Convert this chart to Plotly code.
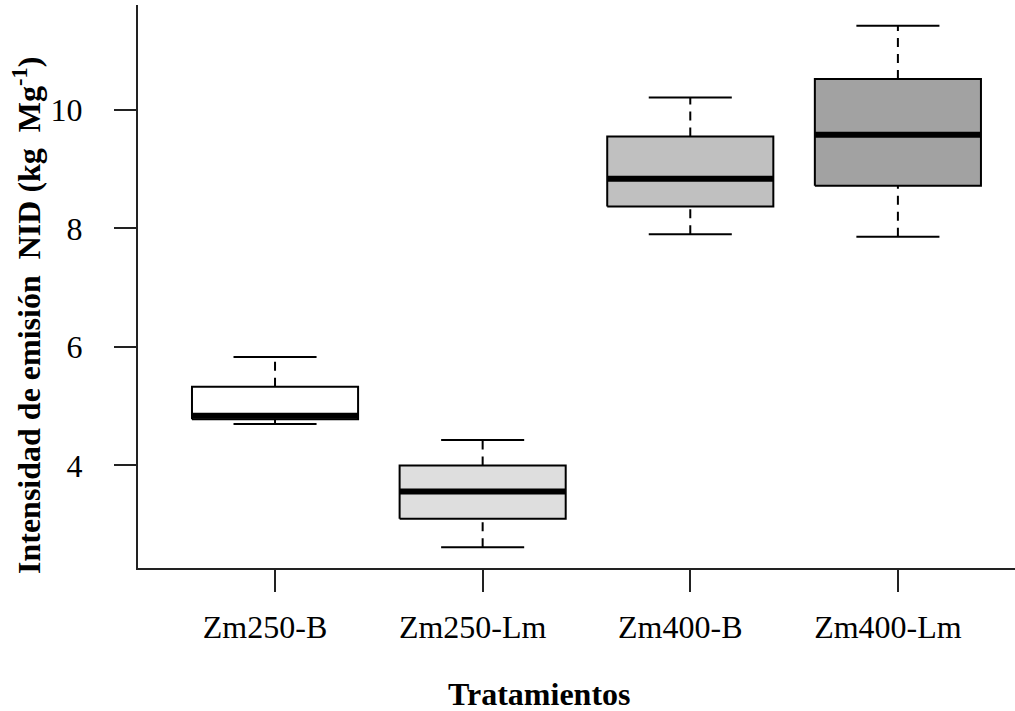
import plotly.graph_objects as go

categories = ["Zm250-B", "Zm250-Lm", "Zm400-B", "Zm400-Lm"]
lower_whisker = [4.70, 2.62, 7.90, 7.86]
q1 = [4.78, 3.10, 8.37, 8.72]
median = [4.84, 3.56, 8.84, 9.58]
q3 = [5.33, 4.00, 9.55, 10.52]
upper_whisker = [5.83, 4.43, 10.21, 11.42]
fill_colors = ["#ffffff", "#dedede", "#c0c0c0", "#a2a2a2"]
y_ticks = [4, 6, 8, 10]

BOX_HALF = 0.4
CAP_HALF = 0.2
FONT = "Liberation Serif, Times New Roman, serif"
FS = 32

fig = go.Figure()
for i, cat in enumerate(categories):
    xc = i + 1
    # whiskers (dashed)
    fig.add_trace(go.Scatter(x=[xc, xc], y=[q3[i], upper_whisker[i]], mode="lines",
                             line=dict(color="black", width=2, dash="9px,7px"),
                             showlegend=False, hoverinfo="skip"))
    fig.add_trace(go.Scatter(x=[xc, xc], y=[lower_whisker[i], q1[i]], mode="lines",
                             line=dict(color="black", width=2, dash="9px,7px"),
                             showlegend=False, hoverinfo="skip"))
    # caps
    for v in (lower_whisker[i], upper_whisker[i]):
        fig.add_trace(go.Scatter(x=[xc - CAP_HALF, xc + CAP_HALF], y=[v, v], mode="lines",
                                 line=dict(color="black", width=2),
                                 showlegend=False, hoverinfo="skip"))
    # box
    fig.add_trace(go.Scatter(
        x=[xc - BOX_HALF, xc + BOX_HALF, xc + BOX_HALF, xc - BOX_HALF, xc - BOX_HALF],
        y=[q1[i], q1[i], q3[i], q3[i], q1[i]],
        mode="lines", fill="toself", fillcolor=fill_colors[i],
        line=dict(color="black", width=2), name=cat, showlegend=False, hoverinfo="skip"))
    # median
    fig.add_trace(go.Scatter(x=[xc - BOX_HALF, xc + BOX_HALF], y=[median[i], median[i]],
                             mode="lines", line=dict(color="black", width=6),
                             showlegend=False, hoverinfo="skip"))

fig.update_layout(
    width=1015, height=711,
    margin=dict(l=138, r=0, t=5, b=143),
    paper_bgcolor="white", plot_bgcolor="white",
    font=dict(family=FONT, size=FS, color="black"),
    xaxis=dict(range=[0.34, 4.564], tickmode="array", tickvals=[1, 2, 3, 4],
               ticktext=categories, ticks="outside", ticklen=22, tickwidth=2,
               tickcolor="#222", showline=True, linecolor="#222", linewidth=2,
               showgrid=False, zeroline=False, ticklabelstandoff=8, ticklabelshift=-10,
               tickfont=dict(family=FONT, size=FS, color="black")),
    yaxis=dict(range=[2.27, 11.77], tickmode="array", tickvals=y_ticks,
               ticks="outside", ticklen=22, tickwidth=2, tickcolor="#222",
               showline=True, linecolor="#222", linewidth=2, showgrid=False,
               zeroline=False, ticklabelstandoff=25,
               tickfont=dict(family=FONT, size=FS, color="black")),
)

fig.add_annotation(text="<b>Intensidad de emisión\u00a0 NID (kg\u00a0 Mg<sup>-1</sup>)</b>",
                   xref="paper", yref="paper", x=0, xshift=-111, y=0.4476,
                   xanchor="center", yanchor="middle", textangle=-90, showarrow=False,
                   font=dict(family=FONT, size=FS, color="black"))
fig.add_annotation(text="<b>Tratamientos</b>", xref="paper", yref="paper",
                   x=(539 - 138) / 877, y=-0.224, xanchor="center", yanchor="middle",
                   showarrow=False, font=dict(family=FONT, size=FS, color="black"))

fig.write_html("out.html", config={"displayModeBar": False},
               post_script="document.body.style.margin='0px';document.body.style.overflow='hidden';")
